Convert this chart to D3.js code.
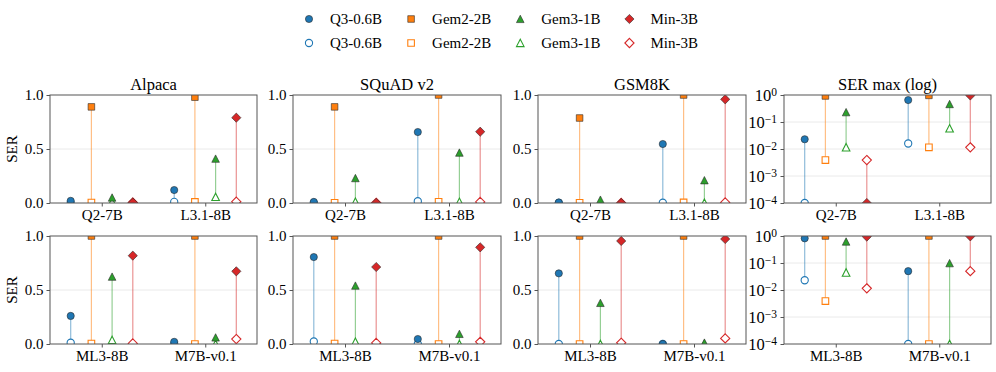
<!DOCTYPE html>
<html><head><meta charset="utf-8">
<script src="https://cdn.jsdelivr.net/npm/d3@7"></script>
<style>
body{margin:0;background:#fff;}
svg text{font-family:"Liberation Serif","Times New Roman",Times,"DejaVu Serif",serif !important;fill:#000;}
</style></head>
<body><svg id="c" width="996" height="372"></svg>
<script>
// ---------- data ----------
const models = ["Q3-0.6B","Gem2-2B","Gem3-1B","Min-3B"];
const colors = ["#1f77b4","#ff7f0e","#2ca02c","#d62728"];
const shapes = ["circle","square","triangle","diamond"];
const titles = ["Alpaca","SQuAD v2","GSM8K","SER max (log)"];
const topCats = ["Q2-7B","L3.1-8B"];
const bottomCats = ["ML3-8B","M7B-v0.1"];
const linTicks = [0,0.5,1];
const logTicks = [1e-4,1e-3,1e-2,1e-1,1];

// [model][category] ; filled = upper marker, hollow = lower marker
const alpacaTopFilled  = [[0.02,0.12],[0.89,0.98],[0.05,0.41],[0.005,0.79]];
const alpacaTopHollow  = [[0.0,0.01],[0.004,0.01],[0.01,0.056],[0.004,0.012]];
const squadTopFilled   = [[0.01,0.657],[0.89,1.0],[0.23,0.466],[0.0,0.66]];
const squadTopHollow   = [[0.0,0.016],[0.002,0.011],[0.0115,0.01],[0.002,0.01]];
const gsmTopFilled     = [[0.005,0.546],[0.787,1.0],[0.03,0.21],[0.0,0.96]];
const gsmTopHollow     = [[0.0,0.003],[0.002,0.005],[0.005,0.002],[0.001,0.005]];
const maxTopFilled     = [[0.023,0.65],[0.92,0.97],[0.23,0.46],[0.0001,0.96]];
const maxTopHollow     = [[0.0001,0.016],[0.0039,0.0115],[0.0115,0.058],[0.0039,0.0115]];

const alpacaBotFilled  = [[0.26,0.02],[1.0,1.0],[0.623,0.06],[0.818,0.673]];
const alpacaBotHollow  = [[0.012,0.0],[0.004,0.0],[0.037,0.0],[0.005,0.046]];
const squadBotFilled   = [[0.805,0.046],[1.0,1.0],[0.54,0.093],[0.713,0.895]];
const squadBotHollow   = [[0.023,0.0],[0.004,0.0],[0.02,0.0],[0.01,0.02]];
const gsmBotFilled     = [[0.654,0.0],[1.0,1.0],[0.38,0.012],[0.954,0.972]];
const gsmBotHollow     = [[0.0,0.0],[0.0,0.0],[0.0,0.0],[0.0115,0.052]];
const maxBotFilled     = [[0.82,0.05],[1.0,1.0],[0.62,0.098],[0.95,0.97]];
const maxBotHollow     = [[0.023,0.0001],[0.0039,0.0001],[0.044,0.0001],[0.0115,0.05]];

const offsets = [-0.3,-0.1,0.1,0.3];

// ---------- layout ----------
const colX = [50,293,538,784];
const colW = [207,208,208,207];
const rowY = [95,236];
const panelH = 108;
const FONT = "'Liberation Serif','Times New Roman',Times,'DejaVu Serif',serif";

const svg = d3.select("#c");
const FS = 15;

function markerPath(shape){
  switch(shape){
    case "circle": return "M3.6,0A3.6,3.6 0 1,1 -3.6,0A3.6,3.6 0 1,1 3.6,0Z";
    case "square": return "M-3.3,-3.3h6.6v6.6h-6.6Z";
    case "triangle": return "M0,-3.8L3.8,3.6L-3.8,3.6Z";
    case "diamond": return "M0,-4.6L4.6,0L0,4.6L-4.6,0Z";
  }
}

const panels = [
  {row:0,col:0,cats:topCats,filled:alpacaTopFilled,hollow:alpacaTopHollow,log:false},
  {row:0,col:1,cats:topCats,filled:squadTopFilled,hollow:squadTopHollow,log:false},
  {row:0,col:2,cats:topCats,filled:gsmTopFilled,hollow:gsmTopHollow,log:false},
  {row:0,col:3,cats:topCats,filled:maxTopFilled,hollow:maxTopHollow,log:true},
  {row:1,col:0,cats:bottomCats,filled:alpacaBotFilled,hollow:alpacaBotHollow,log:false},
  {row:1,col:1,cats:bottomCats,filled:squadBotFilled,hollow:squadBotHollow,log:false},
  {row:1,col:2,cats:bottomCats,filled:gsmBotFilled,hollow:gsmBotHollow,log:false},
  {row:1,col:3,cats:bottomCats,filled:maxBotFilled,hollow:maxBotHollow,log:true},
];

const defs = svg.append("defs");
const supMap = {"0":"0","-1":"\u22121","-2":"\u22122","-3":"\u22123","-4":"\u22124"};

panels.forEach((p,pi)=>{
  const w = colW[p.col], h = panelH;
  const g = svg.append("g").attr("transform",`translate(${colX[p.col]},${rowY[p.row]})`);
  const x = d3.scaleLinear().domain([-0.5,1.5]).range([0,w]);
  const y = p.log ? d3.scaleLog().domain([1e-4,1]).range([h,0]).clamp(true)
                  : d3.scaleLinear().domain([0,1]).range([h,0]);
  const yv = v => p.log ? y(Math.max(v,1e-4)) : y(v);

  defs.append("clipPath").attr("id","clip"+pi).append("rect")
    .attr("x",0).attr("y",0).attr("width",w).attr("height",h);

  // grid
  const gridVals = p.log ? [1e-3,1e-2,1e-1] : [0.5];
  g.selectAll(".grid").data(gridVals).join("line")
    .attr("x1",0).attr("x2",w).attr("y1",d=>y(d)).attr("y2",d=>y(d))
    .attr("stroke","#e4e4e4").attr("stroke-width",0.8);

  const plot = g.append("g").attr("clip-path",`url(#clip${pi})`);
  models.forEach((m,mi)=>{
    p.cats.forEach((c,ci)=>{
      const cx = x(ci+offsets[mi]);
      const yl = yv(p.hollow[mi][ci]), yh = yv(p.filled[mi][ci]);
      plot.append("line").attr("x1",cx).attr("x2",cx).attr("y1",yl).attr("y2",yh)
        .attr("stroke",colors[mi]).attr("stroke-opacity",0.5).attr("stroke-width",1.2);
    });
    p.cats.forEach((c,ci)=>{
      const cx = x(ci+offsets[mi]);
      plot.append("path").attr("d",markerPath(shapes[mi]))
        .attr("transform",`translate(${cx},${yv(p.hollow[mi][ci])})`)
        .attr("fill","#fff").attr("stroke",colors[mi]).attr("stroke-width",1.1);
    });
    p.cats.forEach((c,ci)=>{
      const cx = x(ci+offsets[mi]);
      plot.append("path").attr("d",markerPath(shapes[mi]))
        .attr("transform",`translate(${cx},${yv(p.filled[mi][ci])})`)
        .attr("fill",colors[mi]).attr("stroke","#2a2a2a").attr("stroke-width",0.6);
    });
  });

  // spines
  g.append("rect").attr("x",0).attr("y",0).attr("width",w).attr("height",h)
    .attr("fill","none").attr("stroke","#555").attr("stroke-width",1);

  // y axis
  const ya = p.log ? d3.axisLeft(y).tickValues(logTicks).tickFormat(()=>"").tickPadding(3.5)
                   : d3.axisLeft(y).tickValues(linTicks).tickFormat(d3.format(".1f")).tickPadding(3);
  ya.tickSize(3.5);
  const yg = g.append("g").call(ya).attr("font-family",FONT).attr("font-size",FS);
  yg.select(".domain").remove();
  yg.selectAll(".tick line").attr("stroke","#555");
  if(p.log){
    yg.selectAll(".tick text").each(function(d){
      const t = d3.select(this).attr("font-size",16.5);
      const e = Math.round(Math.log10(d));
      t.text(null);
      t.append("tspan").text("10");
      t.append("tspan").attr("dy","-0.42em").attr("font-size",11.5).text(supMap[String(e)]);
    });
  }

  // x axis
  const xa = d3.axisBottom(x).tickValues([0,1]).tickFormat(i=>p.cats[i]).tickSize(3.5).tickPadding(3);
  const xg = g.append("g").attr("transform",`translate(0,${h})`).call(xa)
    .attr("font-family",FONT).attr("font-size",FS);
  xg.select(".domain").remove();
  xg.selectAll(".tick line").attr("stroke","#555");

  if(p.row===0){
    g.append("text").attr("x",w/2).attr("y",-5).attr("text-anchor","middle")
      .attr("font-family",FONT).attr("font-size",16.5).text(titles[p.col]);
  }
  if(p.col===0){
    g.append("text").attr("transform",`translate(${-33},${h/2}) rotate(-90)`)
      .attr("text-anchor","middle").attr("font-family",FONT).attr("font-size",FS).text("SER");
  }
});

// ---------- legend ----------
const leg = svg.append("g").attr("font-family",FONT).attr("font-size",FS);
const rowsY = [19,43];
let lx = 309;
models.forEach((m,mi)=>{
  const tx = lx + 21;
  [0,1].forEach(r=>{
    leg.append("path").attr("d",markerPath(shapes[mi]))
      .attr("transform",`translate(${lx},${rowsY[r]})`)
      .attr("fill", r===0 ? colors[mi] : "#fff")
      .attr("stroke", r===0 ? "#2a2a2a" : colors[mi])
      .attr("stroke-width", r===0 ? 0.6 : 1.1);
  });
  let tw = 0;
  [0,1].forEach(r=>{
    const t = leg.append("text").attr("x",tx).attr("y",rowsY[r]).attr("dy","0.35em").text(m);
    tw = Math.max(tw, t.node().getComputedTextLength());
  });
  lx = tx + tw + 29;
});
</script></body></html>
